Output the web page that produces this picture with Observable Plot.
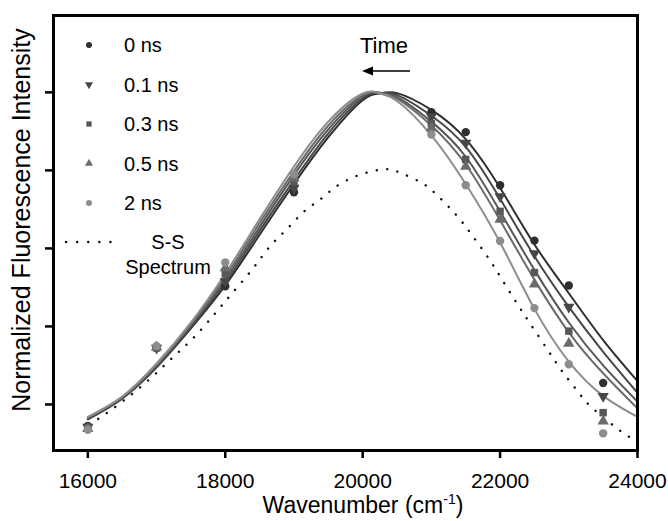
<!DOCTYPE html>
<html><head><meta charset="utf-8">
<script src="https://cdn.jsdelivr.net/npm/d3@7"></script>
<script src="https://cdn.jsdelivr.net/npm/@observablehq/plot@0.6"></script>
<style>body{margin:0;background:#fff;} #chart svg{display:block;}</style>
</head><body><div id="chart"></div>
<script>
// ---- data ----
const delayLabels = ["0 ns", "0.1 ns", "0.3 ns", "0.5 ns", "2 ns"];
const xTicks = [16000, 18000, 20000, 22000, 24000];
const yTicks = [0.2, 0.4, 0.6, 0.8, 1.0];

const fitWavenumbers = [16000,16500,17000,17500,18000,18500,19000,19500,20000,20250,20500,21000,21500,22000,22500,23000,23500,24000];
const fit0ns  = [0.162,0.215,0.295,0.395,0.505,0.635,0.765,0.885,0.980,0.997,0.998,0.955,0.880,0.755,0.610,0.485,0.365,0.260];
const fit01ns = [0.163,0.217,0.297,0.399,0.512,0.645,0.775,0.895,0.985,0.998,0.993,0.940,0.860,0.727,0.580,0.450,0.335,0.230];
const fit03ns = [0.165,0.218,0.300,0.403,0.520,0.655,0.788,0.905,0.990,0.999,0.988,0.925,0.835,0.695,0.545,0.410,0.300,0.207];
const fit05ns = [0.166,0.219,0.302,0.406,0.527,0.665,0.798,0.915,0.993,0.999,0.984,0.915,0.815,0.672,0.520,0.385,0.280,0.190];
const fit2ns  = [0.168,0.220,0.305,0.410,0.535,0.675,0.810,0.925,0.997,0.997,0.978,0.890,0.765,0.615,0.445,0.310,0.222,0.168];

const pointWavenumbers = [16000,17000,18000,19000,21000,21500,22000,22500,23000,23500];
const pts0ns  = [0.145,0.345,0.503,0.744,0.949,0.898,0.762,0.620,0.505,0.255];
const pts01ns = [0.142,0.345,0.515,0.755,0.938,0.870,0.733,0.587,0.450,0.221];
const pts03ns = [0.140,0.345,0.535,0.770,0.920,0.828,0.695,0.538,0.388,0.179];
const pts05ns = [0.138,0.347,0.550,0.780,0.908,0.810,0.674,0.508,0.356,0.157];
const pts2ns  = [0.135,0.350,0.564,0.790,0.892,0.762,0.619,0.447,0.303,0.126];

const ssWavenumbers = [16150,16500,16900,17250,17550,17850,18100,18400,18650,18900,19150,19400,19600,19900,20200,20400,20600,20850,21050,21350,21600,21850,22050,22250,22450,22700,22900,23150,23300,23550,23800,24000];
const ssValues      = [0.163,0.207,0.265,0.323,0.373,0.433,0.485,0.548,0.605,0.650,0.695,0.728,0.757,0.785,0.800,0.802,0.790,0.769,0.742,0.688,0.632,0.570,0.514,0.458,0.404,0.338,0.286,0.229,0.198,0.160,0.126,0.105];
const ssLabel = ["S-S", "Spectrum"];
const timeLabel = "Time";
const xTitle = ["Wavenumber (cm", "-1", ")"];
const yTitle = "Normalized Fluorescence Intensity";

// ---- styling ----
const grays = ["#2f2f2f", "#474747", "#575757", "#6b6b6b", "#8d8d8d"];
const triangleDown = {
  draw(ctx, size) {
    const y = Math.sqrt(size / (Math.sqrt(3) * 3));
    ctx.moveTo(0, 2 * y);
    ctx.lineTo(-Math.sqrt(3) * y, -y);
    ctx.lineTo(Math.sqrt(3) * y, -y);
    ctx.closePath();
  }
};
const symbols = [d3.symbolCircle, triangleDown, d3.symbolSquare, d3.symbolTriangle, d3.symbolCircle];
const fitSeries = [fit0ns, fit01ns, fit03ns, fit05ns, fit2ns];
const pointSeries = [pts0ns, pts01ns, pts03ns, pts05ns, pts2ns];
const FONT = "'Liberation Sans', Arial, Helvetica, sans-serif";

const marks = [];
const ssRows = ssWavenumbers.map((w, i) => ({w, v: ssValues[i]}));
marks.push(Plot.line(ssRows, {x: "w", y: "v", stroke: "#111", strokeWidth: 2.4,
  strokeDasharray: "0.1,10.4", strokeLinecap: "round", curve: "natural"}));
fitSeries.forEach((vals, i) => {
  const rows = fitWavenumbers.map((w, j) => ({w, v: vals[j]}));
  marks.push(Plot.line(rows, {x: "w", y: "v", stroke: grays[i], strokeWidth: 2, curve: "natural"}));
});
pointSeries.forEach((vals, i) => {
  const rows = pointWavenumbers.map((w, j) => ({w, v: vals[j]}));
  marks.push(Plot.dot(rows, {x: "w", y: "v", symbol: symbols[i], fill: grays[i], stroke: "none", r: 4.2}));
});
marks.push(Plot.frame({stroke: "#000", strokeWidth: 3}));
marks.push(Plot.axisX(xTicks, {tickSize: 8, strokeWidth: 2.5, tickPadding: 15, fontSize: 21, label: null, tickFormat: d => String(d)}));
marks.push(Plot.axisY(yTicks, {tickSize: 8, strokeWidth: 2.5, tickFormat: () => "", label: null}));

const plot = Plot.plot({
  width: 668, height: 521,
  marginLeft: 53, marginRight: 31, marginTop: 15, marginBottom: 71,
  x: {domain: [15500, 24000]},
  y: {domain: [0.082, 1.197]},
  style: {fontFamily: FONT, color: "#000", background: "#fff"},
  marks
});
document.getElementById("chart").appendChild(plot);

// ---- annotations, legend & titles ----
const svg = d3.select(plot);
const g = svg.append("g").attr("font-family", FONT).attr("fill", "#000").attr("text-anchor", "start");
// legend
delayLabels.forEach((lab, i) => {
  const y = 45 + i * 39.5;
  g.append("path").attr("d", d3.symbol(symbols[i], Math.PI * 3 * 3)())
    .attr("transform", `translate(89,${y})`).attr("fill", grays[i]);
  g.append("text").attr("x", 124).attr("y", y).attr("dy", "0.36em")
    .attr("text-anchor", "start").attr("font-size", 20).text(lab);
});
g.append("line").attr("x1", 66).attr("x2", 114).attr("y1", 242).attr("y2", 242)
  .attr("stroke", "#111").attr("stroke-width", 2.4).attr("stroke-linecap", "round")
  .attr("stroke-dasharray", "0.1,11");
g.append("text").attr("x", 168).attr("y", 242).attr("dy", "0.36em").attr("text-anchor", "middle").attr("font-size", 20).text(ssLabel[0]);
g.append("text").attr("x", 168).attr("y", 267).attr("dy", "0.36em").attr("text-anchor", "middle").attr("font-size", 20).text(ssLabel[1]);
// time arrow
g.append("text").attr("x", 384).attr("y", 45).attr("dy", "0.36em").attr("text-anchor", "middle").attr("font-size", 22).text(timeLabel);
g.append("line").attr("x1", 410).attr("x2", 370).attr("y1", 71).attr("y2", 71).attr("stroke", "#000").attr("stroke-width", 1.6);
g.append("path").attr("d", "M362,71L373,66.5L373,75.5Z").attr("fill", "#000");
// axis titles
g.append("text").attr("transform", "translate(21,220) rotate(-90)").attr("dy", "0.36em")
  .attr("text-anchor", "middle").attr("font-size", 25).text(yTitle);
const xt = g.append("text").attr("x", 363).attr("y", 513).attr("text-anchor", "middle").attr("font-size", 23);
xt.append("tspan").text(xTitle[0]);
xt.append("tspan").attr("font-size", 14).attr("dy", -9).text(xTitle[1]);
xt.append("tspan").attr("dy", 9).text(xTitle[2]);
</script>
</body></html>
